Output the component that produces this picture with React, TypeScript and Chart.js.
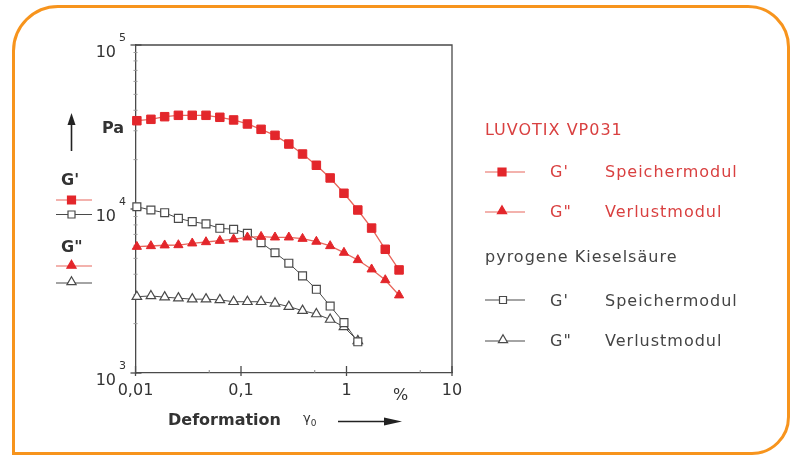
import React, { useEffect, useRef } from 'react';
import { Chart, registerables } from 'chart.js';

Chart.register(...registerables);

// ---- data ----
const deformation = [0.0103, 0.014, 0.0189, 0.0255, 0.0345, 0.0466, 0.063, 0.0851, 0.115, 0.155, 0.21, 0.284, 0.383, 0.518, 0.7, 0.946, 1.28, 1.73, 2.33, 3.15];
const luvotixStorage = [34540, 35230, 36550, 37260, 37260, 37260, 36240, 34910, 32990, 30610, 28130, 24900, 21640, 18480, 15460, 12470, 9860, 7650, 5680, 4250];
const luvotixLoss = [5890, 5950, 6010, 6030, 6180, 6290, 6410, 6540, 6720, 6780, 6720, 6720, 6590, 6330, 5950, 5420, 4890, 4290, 3690, 2980];
const silicaDeformation = [0.0103, 0.014, 0.0189, 0.0255, 0.0345, 0.0466, 0.063, 0.0851, 0.115, 0.155, 0.21, 0.284, 0.383, 0.518, 0.7, 0.946, 1.28];
const silicaStorage = [10320, 9860, 9490, 8770, 8370, 8110, 7630, 7520, 7110, 6230, 5410, 4670, 3910, 3240, 2560, 2030, 1550];
const silicaLoss = [2920, 2950, 2900, 2860, 2820, 2820, 2790, 2720, 2720, 2720, 2660, 2540, 2400, 2290, 2120, 1910, 1570];

const xTickValues = [0.01, 0.1, 1, 10];
const xTickLabels = ['0,01', '0,1', '1', '10'];
const xMinorTicks = [0.05, 0.5, 5];
const yTickExponents = [3, 4, 5];
const yMinorMantissas = [2, 3, 4, 5, 6, 7, 8, 9];

const RED = '#e3262b';
const RED_LINE = '#e8665c';
const RED_TEXT = '#d94040';
const GRAY = '#4a4a4a';
const FONT = '"DejaVu Sans", "Liberation Sans", sans-serif';

function toPoints(xs: number[], ys: number[]) {
  return ys.map((y, i) => ({ x: xs[i], y }));
}

function square(ctx: CanvasRenderingContext2D, x: number, y: number, s: number, fill: string, stroke: string) {
  ctx.beginPath();
  ctx.rect(x - s / 2, y - s / 2, s, s);
  ctx.fillStyle = fill;
  ctx.fill();
  ctx.strokeStyle = stroke;
  ctx.lineWidth = 1.2;
  ctx.stroke();
}

function triangle(ctx: CanvasRenderingContext2D, x: number, y: number, r: number, fill: string, stroke: string) {
  ctx.beginPath();
  for (let k = 0; k < 3; k++) {
    const a = (k * 2 * Math.PI) / 3;
    const px = x + Math.sin(a) * r;
    const py = y - Math.cos(a) * r;
    if (k === 0) ctx.moveTo(px, py);
    else ctx.lineTo(px, py);
  }
  ctx.closePath();
  ctx.fillStyle = fill;
  ctx.fill();
  ctx.strokeStyle = stroke;
  ctx.lineWidth = 1.2;
  ctx.stroke();
}

function hline(ctx: CanvasRenderingContext2D, x1: number, x2: number, y: number, color: string, w = 1.2) {
  ctx.beginPath();
  ctx.moveTo(x1, y);
  ctx.lineTo(x2, y);
  ctx.strokeStyle = color;
  ctx.lineWidth = w;
  ctx.stroke();
}

const decorPlugin = {
  id: 'decor',
  beforeDatasetsDraw(chart: any) {
    const { ctx, chartArea: a, scales } = chart;
    const xs = scales.x;
    const ys = scales.y;
    ctx.save();
    // frame top/right
    ctx.strokeStyle = GRAY;
    ctx.lineWidth = 1.3;
    ctx.beginPath();
    ctx.moveTo(a.left, a.top);
    ctx.lineTo(a.right, a.top);
    ctx.lineTo(a.right, a.bottom);
    ctx.stroke();
    // x ticks
    xTickValues.forEach((v) => {
      const px = xs.getPixelForValue(v);
      ctx.beginPath();
      ctx.moveTo(px, a.bottom + 3);
      ctx.lineTo(px, a.bottom - 7);
      ctx.stroke();
    });
    ctx.lineWidth = 1;
    ctx.strokeStyle = '#888';
    xMinorTicks.forEach((v) => {
      const px = xs.getPixelForValue(v);
      ctx.beginPath();
      ctx.moveTo(px, a.bottom);
      ctx.lineTo(px, a.bottom - 3);
      ctx.stroke();
    });
    // y ticks
    ctx.strokeStyle = GRAY;
    ctx.lineWidth = 1.3;
    yTickExponents.forEach((e) => {
      const py = ys.getPixelForValue(Math.pow(10, e));
      ctx.beginPath();
      ctx.moveTo(a.left - 5, py);
      ctx.lineTo(a.left + 6, py);
      ctx.stroke();
    });
    ctx.strokeStyle = '#999';
    ctx.lineWidth = 1;
    [3, 4].forEach((e) => {
      yMinorMantissas.forEach((m) => {
        const py = ys.getPixelForValue(m * Math.pow(10, e));
        ctx.beginPath();
        ctx.moveTo(a.left - 2, py);
        ctx.lineTo(a.left + 2, py);
        ctx.stroke();
      });
    });
    // y labels 10^e
    ctx.fillStyle = '#333';
    ctx.textBaseline = 'alphabetic';
    yTickExponents.forEach((e) => {
      const py = ys.getPixelForValue(Math.pow(10, e));
      ctx.font = '16px ' + FONT;
      ctx.textAlign = 'right';
      ctx.fillText('10', 116, py + 11.7);
      ctx.font = '11px ' + FONT;
      ctx.textAlign = 'left';
      ctx.fillText(String(e), 119, py - 4);
    });

    // left legend glyphs
    ctx.strokeStyle = '#222';
    ctx.lineWidth = 1.6;
    ctx.beginPath();
    ctx.moveTo(71.5, 151);
    ctx.lineTo(71.5, 122);
    ctx.stroke();
    ctx.fillStyle = '#222';
    ctx.beginPath();
    ctx.moveTo(71.5, 113);
    ctx.lineTo(67.5, 125);
    ctx.lineTo(75.5, 125);
    ctx.closePath();
    ctx.fill();

    hline(ctx, 56, 92, 200, RED_LINE);
    square(ctx, 71.5, 200, 8, RED, RED);
    hline(ctx, 56, 92, 214.5, GRAY);
    square(ctx, 71.5, 214.5, 7, '#fff', GRAY);
    hline(ctx, 56, 92, 266, RED_LINE);
    triangle(ctx, 71.5, 265.5, 5.3, RED, RED);
    hline(ctx, 56, 92, 283, GRAY);
    triangle(ctx, 71.5, 282, 5.3, '#fff', GRAY);

    // right legend glyphs
    hline(ctx, 485, 525, 172, RED_LINE);
    square(ctx, 502, 172, 8, RED, RED);
    hline(ctx, 485, 525, 212, RED_LINE);
    triangle(ctx, 502, 211, 5.3, RED, RED);
    hline(ctx, 485, 525, 300, GRAY);
    square(ctx, 503, 300, 7, '#fff', GRAY);
    hline(ctx, 485, 525, 341, GRAY);
    triangle(ctx, 503, 340, 5.3, '#fff', GRAY);

    // bottom arrow
    ctx.strokeStyle = '#222';
    ctx.lineWidth = 1.4;
    ctx.beginPath();
    ctx.moveTo(338, 421.5);
    ctx.lineTo(390, 421.5);
    ctx.stroke();
    ctx.fillStyle = '#222';
    ctx.beginPath();
    ctx.moveTo(402, 421.5);
    ctx.lineTo(384, 417.5);
    ctx.lineTo(384, 425.5);
    ctx.closePath();
    ctx.fill();
    ctx.restore();
  },
};

export default function App() {
  const ref = useRef<HTMLCanvasElement | null>(null);

  useEffect(() => {
    if (!ref.current) return;
    const chart = new Chart(ref.current, {
      type: 'line',
      data: {
        datasets: [
          {
            label: "LUVOTIX VP031 G' Speichermodul",
            data: toPoints(deformation, luvotixStorage),
            borderColor: RED_LINE,
            borderWidth: 1.3,
            backgroundColor: RED,
            pointStyle: 'rect',
            pointRadius: 6,
            pointBackgroundColor: RED,
            pointBorderColor: RED,
            pointBorderWidth: 1,
            clip: false,
          },
          {
            label: 'LUVOTIX VP031 G" Verlustmodul',
            data: toPoints(deformation, luvotixLoss),
            borderColor: RED_LINE,
            borderWidth: 1.3,
            backgroundColor: RED,
            pointStyle: 'triangle',
            pointRadius: 5.3,
            pointBackgroundColor: RED,
            pointBorderColor: RED,
            pointBorderWidth: 1,
            clip: false,
          },
          {
            label: "pyrogene Kieselsäure G' Speichermodul",
            data: toPoints(silicaDeformation, silicaStorage),
            borderColor: GRAY,
            borderWidth: 1,
            backgroundColor: '#fff',
            pointStyle: 'rect',
            pointRadius: 5.6,
            pointBackgroundColor: '#fff',
            pointBorderColor: GRAY,
            pointBorderWidth: 1.2,
            clip: false,
          },
          {
            label: 'pyrogene Kieselsäure G" Verlustmodul',
            data: toPoints(silicaDeformation, silicaLoss),
            borderColor: GRAY,
            borderWidth: 1,
            backgroundColor: '#fff',
            pointStyle: 'triangle',
            pointRadius: 5.5,
            pointBackgroundColor: '#fff',
            pointBorderColor: GRAY,
            pointBorderWidth: 1.2,
            clip: false,
          },
        ],
      },
      options: {
        responsive: false,
        maintainAspectRatio: false,
        animation: false,
        devicePixelRatio: 1,
        layout: { padding: { left: 0, right: 343, top: 45, bottom: 0 } },
        plugins: { legend: { display: false }, tooltip: { enabled: false } },
        scales: {
          x: {
            type: 'logarithmic',
            min: 0.01,
            max: 10,
            grid: { display: false, drawTicks: false },
            border: { display: true, color: GRAY, width: 1.3 },
            afterBuildTicks: (scale: any) => {
              scale.ticks = xTickValues.map((v) => ({ value: v }));
            },
            afterFit: (scale: any) => {
              scale.height = 83;
            },
            ticks: {
              autoSkip: false,
              maxRotation: 0,
              padding: 8,
              color: '#333',
              font: { family: FONT, size: 16 },
              callback: (v: any) => {
                const i = xTickValues.findIndex((t) => Math.abs(t - Number(v)) < 1e-9);
                return i >= 0 ? xTickLabels[i] : '';
              },
            },
          },
          y: {
            type: 'logarithmic',
            min: 1000,
            max: 100000,
            grid: { display: false, drawTicks: false },
            border: { display: true, color: GRAY, width: 1.3 },
            ticks: { display: false },
            afterFit: (scale: any) => {
              scale.width = 135.5;
            },
          },
        },
      },
      plugins: [decorPlugin],
    } as any);
    return () => chart.destroy();
  }, []);

  const abs = (left: number, top: number, extra: React.CSSProperties = {}): React.CSSProperties => ({
    position: 'absolute',
    left,
    top,
    lineHeight: '16px',
    fontSize: 16,
    whiteSpace: 'nowrap',
    ...extra,
  });
  const legendRed: React.CSSProperties = { color: RED_TEXT, letterSpacing: '1px' };
  const legendGray: React.CSSProperties = { color: '#444', letterSpacing: '1px' };

  return (
    <div
      style={{
        position: 'fixed',
        left: 0,
        top: 0,
        width: 795,
        height: 456,
        background: '#fff',
        fontFamily: FONT,
        overflow: 'hidden',
      }}
    >
      <div
        style={{
          position: 'absolute',
          left: 12,
          top: 5,
          width: 778,
          height: 450,
          boxSizing: 'border-box',
          border: '3px solid #f7941d',
          borderRadius: '46px 42px 38px 0',
        }}
      />
      <canvas ref={ref} width={795} height={456} style={{ position: 'absolute', left: 0, top: 0, width: 795, height: 456 }} />

      {/* left axis legend */}
      <div style={abs(102, 120, { fontWeight: 'bold', color: '#333' })}>Pa</div>
      <div style={abs(61, 172, { fontWeight: 'bold', color: '#333' })}>G'</div>
      <div style={abs(61, 239, { fontWeight: 'bold', color: '#333' })}>G"</div>

      {/* x axis title */}
      <div style={abs(393, 387, { color: '#333' })}>%</div>
      <div style={abs(168, 412, { fontWeight: 'bold', color: '#333' })}>Deformation</div>
      <div style={abs(303, 410, { color: '#333', fontSize: 13 })}>
        γ<sub style={{ fontSize: 9 }}>0</sub>
      </div>

      {/* right legend */}
      <div style={abs(485, 121.5, legendRed)}>LUVOTIX VP031</div>
      <div style={abs(550, 164, legendRed)}>G'</div>
      <div style={abs(605, 164, legendRed)}>Speichermodul</div>
      <div style={abs(550, 204, legendRed)}>G"</div>
      <div style={abs(605, 204, legendRed)}>Verlustmodul</div>
      <div style={abs(485, 249, legendGray)}>pyrogene Kieselsäure</div>
      <div style={abs(550, 292.5, legendGray)}>G'</div>
      <div style={abs(605, 292.5, legendGray)}>Speichermodul</div>
      <div style={abs(550, 332.5, legendGray)}>G"</div>
      <div style={abs(605, 332.5, legendGray)}>Verlustmodul</div>
    </div>
  )
}
